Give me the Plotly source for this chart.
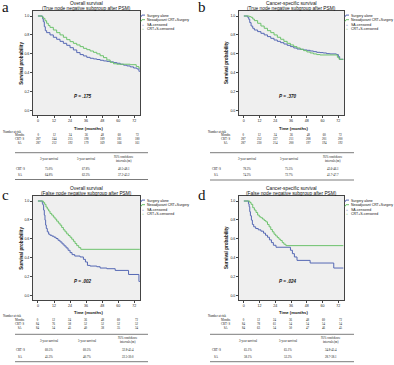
import plotly.graph_objects as go

W, H = 394, 365

# ---------------- data ----------------
month_ticks = [0, 12, 24, 36, 48, 60, 72]
surv_ticks = [0.0, 0.2, 0.4, 0.6, 0.8, 1.0]

titles_top = ["Overall survival", "Cancer-specific survival", "Overall survival", "Cancer-specific survival"]
titles_sub = ["(True node negative subgroup after PSM)", "(True node negative subgroup after PSM)",
              "(False node negative subgroup after PSM)", "(False node negative subgroup after PSM)"]
p_values = ["P = .175", "P = .370", "P = .002", "P = .024"]
panel_letters = ["a", "b", "c", "d"]
legend_labels = ["Surgery alone", "Neoadjuvant CRT+Surgery", "SA-censored", "CRT+S-censored"]
risk_row_labels = ["Months", "CRT+S", "SA"]

# Panel a: overall survival, true node negative
a_sa_t = [0, 3.5, 4, 4.75, 5.5, 6.5, 9, 11.5, 14, 16.5, 19, 21.5, 24, 26.5, 29, 31.5, 34, 36.5, 39, 41.5,
          44, 46.5, 49, 51.5, 54, 56.5, 59, 61.5, 64, 66.5, 69, 71.5, 74, 75.5, 76.2]
a_sa_s = [1.0, 0.97, 0.94, 0.887, 0.845, 0.824, 0.80, 0.775, 0.754, 0.732, 0.711, 0.69, 0.665, 0.641, 0.613,
          0.592, 0.578, 0.563, 0.553, 0.546, 0.54, 0.532, 0.525, 0.52, 0.515, 0.507, 0.50, 0.49, 0.48, 0.472,
          0.462, 0.45, 0.44, 0.415, 0.415]
a_crt_t = [0, 3, 4, 5.25, 6.5, 7.75, 9, 11.5, 14, 16.5, 19, 21.5, 24, 26.5, 29, 31.5, 34, 36.5, 39, 41.5,
           44, 46.5, 49, 51.5, 54, 56.5, 59, 69, 73.5, 75.5, 76.2]
a_crt_s = [1.0, 0.99, 0.975, 0.95, 0.923, 0.90, 0.88, 0.852, 0.824, 0.80, 0.775, 0.75, 0.729, 0.711, 0.694,
           0.676, 0.658, 0.644, 0.63, 0.616, 0.60, 0.58, 0.56, 0.535, 0.51, 0.495, 0.49, 0.485, 0.465, 0.447,
           0.447]

# Panel b: cancer-specific survival, true node negative
b_sa_t = [0, 3, 3.75, 4.5, 5.5, 6.75, 8, 10.5, 13, 15.5, 18, 20.5, 23, 25.5, 28, 30.5, 33, 35.5, 38, 40.5,
          43, 45.5, 48, 50.5, 53, 55.5, 58, 60.5, 63, 65.5, 70.5, 72, 73, 75.8]
b_sa_s = [1.0, 0.985, 0.965, 0.93, 0.894, 0.87, 0.852, 0.835, 0.817, 0.80, 0.782, 0.764, 0.746, 0.732, 0.718,
          0.704, 0.69, 0.676, 0.662, 0.651, 0.648, 0.641, 0.637, 0.63, 0.623, 0.616, 0.613, 0.609, 0.602,
          0.599, 0.592, 0.57, 0.542, 0.542]
b_crt_t = [0, 4.25, 5.5, 6.75, 8, 10.5, 13, 15.5, 18, 20.5, 23, 25.5, 28, 30.5, 33, 35.5, 38, 40.5, 43, 45.5,
           48, 50.5, 53, 55.5, 58, 71.25, 72.5, 75.8]
b_crt_s = [1.0, 0.993, 0.986, 0.968, 0.951, 0.923, 0.894, 0.87, 0.845, 0.824, 0.80, 0.775, 0.754, 0.732,
           0.711, 0.694, 0.676, 0.662, 0.648, 0.634, 0.62, 0.609, 0.599, 0.592, 0.588, 0.563, 0.542, 0.542]

# Panel c: overall survival, false node negative
c_sa_t = [0, 3.25, 3.75, 4.25, 4.75, 5.25, 5.75, 6.25, 7, 8, 9, 10.5, 12, 13.5, 15, 16.5, 18, 19.5, 21, 22.5,
          24, 25.5, 27.5, 31.5, 34, 35.5, 37, 39, 44, 46.5, 51.5, 57.75, 67.75, 75.5, 76.2]
c_sa_s = [1.0, 0.975, 0.957, 0.904, 0.851, 0.798, 0.745, 0.709, 0.674, 0.649, 0.638, 0.628, 0.617, 0.603,
          0.585, 0.567, 0.546, 0.525, 0.504, 0.479, 0.454, 0.433, 0.418, 0.408, 0.383, 0.355, 0.319, 0.312,
          0.305, 0.291, 0.284, 0.266, 0.223, 0.149, 0.149]
c_crt_t = [0, 4, 5, 6, 7, 8, 9, 10.25, 11.5, 12.75, 14, 15.25, 16.5, 17.75, 19, 20.25, 21.5, 22.75, 24, 25.25,
           26.5, 27.75, 29, 30.5, 32, 76.2]
c_crt_s = [1.0, 0.985, 0.965, 0.936, 0.915, 0.894, 0.869, 0.851, 0.83, 0.809, 0.787, 0.766, 0.745, 0.72, 0.695,
           0.674, 0.652, 0.635, 0.617, 0.596, 0.574, 0.55, 0.528, 0.507, 0.489, 0.489]

# Panel d: cancer-specific survival, false node negative
d_sa_t = [0, 3.5, 4, 4.5, 5, 5.75, 6.5, 7.5, 9, 11, 13, 15, 16.5, 18, 19.5, 21, 22.5, 24.5, 35.5, 37, 38.5,
          40.5, 50.5, 68.5, 75.8]
d_sa_s = [1.0, 0.97, 0.94, 0.887, 0.844, 0.798, 0.752, 0.727, 0.709, 0.695, 0.681, 0.66, 0.638, 0.617, 0.589,
          0.56, 0.532, 0.511, 0.479, 0.443, 0.408, 0.372, 0.344, 0.291, 0.291]
d_crt_t = [0, 4.5, 5.5, 6.75, 8, 9.25, 10.5, 11.75, 13, 14.25, 15.5, 16.75, 18, 19.25, 20.5, 21.75, 23, 24.25,
           25.5, 26.75, 28, 29.25, 30.5, 32, 75.8]
d_crt_s = [1.0, 0.985, 0.965, 0.929, 0.904, 0.879, 0.851, 0.833, 0.823, 0.809, 0.794, 0.78, 0.752, 0.727, 0.699,
           0.674, 0.649, 0.631, 0.613, 0.596, 0.582, 0.56, 0.543, 0.528, 0.528]

# Number at risk
a_risk_crt = [287, 244, 215, 198, 189, 181, 180]
a_risk_sa = [287, 212, 192, 179, 169, 166, 161]
b_risk_crt = [287, 252, 227, 211, 208, 201, 200]
b_risk_sa = [287, 230, 214, 200, 197, 194, 192]
c_risk_crt = [84, 76, 58, 52, 52, 52, 52]
c_risk_sa = [84, 54, 45, 40, 38, 35, 34]
d_risk_crt = [84, 78, 61, 54, 54, 54, 54]
d_risk_sa = [84, 63, 54, 50, 47, 46, 45]

# Survival summary tables
table_header = ["3-year survival", "5-year survival", "95% confidence", "intervals (m)"]
a_tab_crt = ["75.0%", "67.8%", "40.5-48.1"]
a_tab_sa = ["64.8%", "62.3%", "37.2-43.2"]
b_tab_crt = ["78.3%", "75.5%", "43.6-46.1"]
b_tab_sa = ["74.3%", "72.7%", "41.7-47.7"]
c_tab_crt = ["60.5%", "60.5%", "32.8-45.4"]
c_tab_sa = ["45.3%", "40.7%", "22.5-30.0"]
d_tab_crt = ["65.1%", "65.1%", "34.8-45.4"]
d_tab_sa = ["58.1%", "53.3%", "28.7-38.1"]

curves = [(a_sa_t, a_sa_s, a_crt_t, a_crt_s), (b_sa_t, b_sa_s, b_crt_t, b_crt_s),
          (c_sa_t, c_sa_s, c_crt_t, c_crt_s), (d_sa_t, d_sa_s, d_crt_t, d_crt_s)]
risks = [(a_risk_crt, a_risk_sa), (b_risk_crt, b_risk_sa), (c_risk_crt, c_risk_sa), (d_risk_crt, d_risk_sa)]
tabs = [(a_tab_crt, a_tab_sa), (b_tab_crt, b_tab_sa), (c_tab_crt, c_tab_sa), (d_tab_crt, d_tab_sa)]

# ---------------- style / layout (pixels) ----------------
BLUE = "#5568b4"
GREEN = "#6cc26c"
SANS = "Liberation Sans, Arial, sans-serif"
SERIF = "Liberation Serif, Times New Roman, serif"
TF = 3.0  # table font size

boxes = [(33, 11, 140, 115), (239, 11, 344, 115), (33, 196, 140, 300), (239, 196, 344, 300)]
risk_x = [[38, 54, 70, 86, 102.7, 119.3, 137], [243.7, 259, 275, 291, 308, 324, 340],
          [38, 54, 70, 86, 102.7, 119.3, 137], [243.7, 259.3, 275.3, 291.3, 307.7, 324.3, 341]]
pinfo = [
    dict(lx=5, ly=7, ytx=20.7, xty=128.5, nary=131.8, rlx=19.5, narx=2, tl=(15, 148), tc=(20, 49.5, 86, 123.5), ttop=152.7, tbot=179.5),
    dict(lx=202, ly=7, ytx=226, xty=128.5, nary=131.8, rlx=226, narx=207, tl=(210, 354), tc=(216, 247, 289, 333), ttop=152.7, tbot=180),
    dict(lx=5, ly=195, ytx=20.7, xty=312.3, nary=316.0, rlx=19.5, narx=2, tl=(15, 148), tc=(20, 49, 86.5, 128), ttop=334.3, tbot=361.7),
    dict(lx=202, ly=195, ytx=226, xty=312.3, nary=316.0, rlx=226, narx=207, tl=(210, 354), tc=(216, 247.5, 288, 331), ttop=334.3, tbot=361.7),
]

fig = go.Figure()
ann = []
shapes = []


def txt(s, x, y, size, fam=SANS, xa="center", color="#111", **kw):
    ann.append(dict(text=s, x=x / W, y=1 - y / H, xref="paper", yref="paper", xanchor=xa, yanchor="middle",
                    showarrow=False, font=dict(size=size, family=fam, color=color), borderpad=0, **kw))


def block(lines, x, y_first, size, fam=SERIF, xa="center"):
    # multi-line text block; y_first = centre of first line (pixels)
    n = len(lines)
    lh = 1.3 * size
    yc = y_first + (n - 1) * lh / 2
    txt("<br>".join(str(v) for v in lines), x, yc, size, fam=fam, xa=xa)


def hline(x0, x1, y, color="#222", width=0.6):
    shapes.append(dict(type="line", xref="paper", yref="paper", x0=x0 / W, x1=x1 / W, y0=1 - y / H,
                       y1=1 - y / H, line=dict(color=color, width=width)))


def seg(x0, y0, x1, y1, color, width=1):
    shapes.append(dict(type="line", xref="paper", yref="paper", x0=x0 / W, x1=x1 / W, y0=1 - y0 / H,
                       y1=1 - y1 / H, line=dict(color=color, width=width)))


for i in range(4):
    sfx = "" if i == 0 else str(i + 1)
    L, T, R, B = boxes[i]
    sa_t, sa_s, crt_t, crt_s = curves[i]
    fig.add_trace(go.Scatter(x=sa_t, y=sa_s, mode="lines", line=dict(color=BLUE, width=1, shape="hv"),
                             xaxis="x" + sfx, yaxis="y" + sfx, showlegend=False, hoverinfo="skip"))
    fig.add_trace(go.Scatter(x=crt_t, y=crt_s, mode="lines", line=dict(color=GREEN, width=1, shape="hv"),
                             xaxis="x" + sfx, yaxis="y" + sfx, showlegend=False, hoverinfo="skip"))
    axcommon = dict(showline=True, mirror=True, linecolor="#444", linewidth=0.8, ticks="outside", ticklen=2,
                    tickwidth=0.6, tickcolor="#444", showgrid=False, zeroline=False, automargin=False,
                    tickfont=dict(size=3.6, family=SANS, color="#222"))
    fig.update_layout(**{
        "xaxis" + sfx: dict(domain=[L / W, R / W], anchor="y" + sfx, range=[-3.7, 76.3], tickvals=month_ticks,
                            **axcommon),
        "yaxis" + sfx: dict(domain=[1 - B / H, 1 - T / H], anchor="x" + sfx, range=[-0.047, 1.053],
                            tickvals=surv_ticks, tickformat=".1f", **axcommon),
    })
    cx = (L + R) / 2
    p = pinfo[i]
    txt(titles_top[i], cx, T - 7.5, 4.8)
    txt(titles_sub[i], cx, T - 2.3, 4.8)
    txt(panel_letters[i], p["lx"], p["ly"], 15, fam=SERIF)
    txt("<b>Survival probability</b>", p["ytx"], (T + B) / 2, 4.6, textangle=-90)
    txt("<b>Time (months)</b>", cx + 2, p["xty"], 4.2)
    txt("<b><i>" + p_values[i] + "</i></b>", L + 0.47 * (R - L), B - 19, 4.6)
    # legend
    ly0 = T + 4.7
    seg(R + 1, ly0 + 1.2, R + 2, ly0 - 0.6, BLUE, 1)
    seg(R + 2, ly0 - 0.6, R + 5, ly0 - 0.6, BLUE, 1)
    seg(R + 1, ly0 + 5.8, R + 2, ly0 + 4.0, GREEN, 1)
    seg(R + 2, ly0 + 4.0, R + 5, ly0 + 4.0, GREEN, 1)
    txt("+", R + 3, ly0 + 9.2, 3.2, color=BLUE)
    txt("+", R + 3, ly0 + 13.5, 3.2, color=GREEN)
    for k, lab in enumerate(legend_labels):
        txt(lab, R + 5.5, ly0 + [0, 4.6, 9.2, 13.5][k], 3.5, xa="left")
    # number at risk
    ny = p["nary"]
    txt("Number at risk", p["narx"], ny, TF, fam=SERIF, xa="left")
    first = ny + 3.6
    block(risk_row_labels, p["rlx"], first, TF)
    rc, rs = risks[i]
    for j in range(7):
        block([month_ticks[j], rc[j], rs[j]], risk_x[i][j], first, TF)
    # summary table
    t0, t1 = p["tl"]
    top, bot = p["ttop"], p["tbot"]
    hline(t0, t1, top)
    hline(t0, t1, bot)
    c0, c1, c2, c3 = p["tc"]
    txt(table_header[0], c1, top + 6.3, TF, fam=SERIF)
    txt(table_header[1], c2, top + 6.3, TF, fam=SERIF)
    block(table_header[2:], c3, top + 4.0, TF)
    tc_, ts_ = tabs[i]
    ry1 = top + 16.0
    ry2 = top + 22.5
    txt("CRT+S", c0, ry1, TF, fam=SERIF)
    txt("SA", c0, ry2, TF, fam=SERIF)
    for j, cxj in enumerate([c1, c2, c3]):
        txt(tc_[j], cxj, ry1, TF, fam=SERIF)
        txt(ts_[j], cxj, ry2, TF, fam=SERIF)

fig.update_layout(width=W, height=H, margin=dict(l=0, r=0, t=0, b=0), paper_bgcolor="white",
                  plot_bgcolor="#efefef", annotations=ann, shapes=shapes, showlegend=False)
fig.write_html("out.html", config={"displayModeBar": False},
               post_script="document.body.style.margin='0';document.body.style.overflow='hidden';")
